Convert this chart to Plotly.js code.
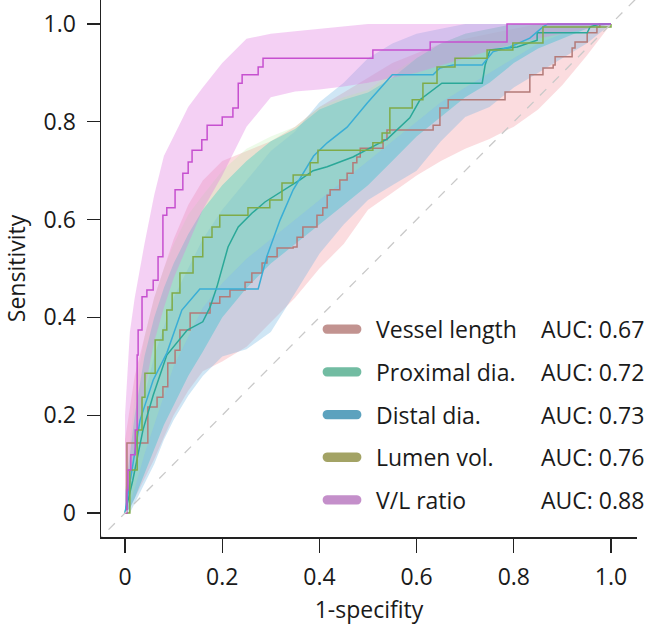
<!DOCTYPE html>
<html><head><meta charset="utf-8">
<script src="https://cdn.plot.ly/plotly-3.0.1.min.js"></script>
<style>html,body{margin:0;padding:0;background:#fff}#chart{width:645px;height:632px}</style>
</head><body><div id="chart"></div>
<script>
// ---- series names / AUC ----
const names = ["Vessel length","Proximal dia.","Distal dia.","Lumen vol.","V/L ratio"];
const aucs = ["0.67","0.72","0.73","0.76","0.88"];
const xTicks = [0,0.2,0.4,0.6,0.8,1.0];
const xTickText = ["0","0.2","0.4","0.6","0.8","1.0"];
const yTicks = [0,0.2,0.4,0.6,0.8,1.0];
const yTickText = ["0","0.2","0.4","0.6","0.8","1.0"];

// ---- ROC curves (1-specificity, sensitivity) ----
const vesselX = [0,0.004,0.014,0.047,0.066,0.078,0.088,0.103,0.113,0.134,0.169,0.175,0.195,0.216,0.247,0.261,0.282,0.292,0.313,0.346,0.354,0.366,0.395,0.407,0.416,0.422,0.442,0.457,0.469,0.477,0.484,0.531,0.539,0.634,0.648,0.665,0.778,0.782,0.827,0.833,0.858,0.860,0.881,0.885,0.920,0.926,0.951,0.967,0.971,0.977,1];
const vesselY = [0,0.143,0.143,0.217,0.237,0.258,0.307,0.333,0.374,0.409,0.409,0.429,0.442,0.456,0.472,0.491,0.511,0.524,0.542,0.544,0.564,0.585,0.609,0.624,0.650,0.661,0.681,0.695,0.716,0.728,0.746,0.763,0.783,0.793,0.828,0.845,0.845,0.861,0.861,0.896,0.896,0.910,0.916,0.933,0.951,0.963,0.982,0.982,0.994,1,1];

const proxX = [0,0.016,0.037,0.058,0.086,0.128,0.160,0.175,0.189,0.212,0.233,0.261,0.288,0.319,0.360,0.387,0.416,0.469,0.504,0.540,0.586,0.607,0.652,0.735,0.741,0.751,0.807,0.848,0.848,0.951,0.957,0.977,1];
const proxY = [0,0.067,0.170,0.241,0.323,0.374,0.391,0.421,0.462,0.544,0.585,0.613,0.636,0.655,0.681,0.700,0.708,0.728,0.746,0.765,0.808,0.845,0.879,0.879,0.916,0.947,0.953,0.967,0.982,0.982,0.994,1,1];

const distX = [0,0.031,0.058,0.086,0.117,0.154,0.274,0.284,0.292,0.319,0.346,0.388,0.416,0.457,0.498,0.550,0.634,0.648,0.675,0.735,0.757,0.792,0.833,0.860,0.870,1];
const distY = [0,0.190,0.272,0.327,0.415,0.458,0.458,0.497,0.525,0.599,0.661,0.730,0.757,0.789,0.838,0.896,0.896,0.910,0.916,0.916,0.943,0.953,0.971,0.994,1,1];

const lumenX = [0,0.010,0.025,0.035,0.041,0.062,0.062,0.078,0.086,0.097,0.113,0.140,0.160,0.179,0.195,0.253,0.298,0.323,0.346,0.381,0.397,0.510,0.529,0.545,0.591,0.613,0.642,0.679,0.745,0.798,0.860,1];
const lumenY = [0,0.088,0.170,0.237,0.286,0.307,0.354,0.374,0.415,0.450,0.491,0.524,0.564,0.585,0.609,0.624,0.640,0.675,0.691,0.716,0.742,0.757,0.777,0.828,0.845,0.879,0.912,0.930,0.947,0.961,0.994,1];

const vlX = [0,0.004,0.006,0.012,0.021,0.025,0.027,0.035,0.045,0.058,0.068,0.078,0.086,0.103,0.119,0.130,0.138,0.158,0.169,0.200,0.222,0.233,0.241,0.274,0.284,0.510,0.510,0.628,0.786,1];
const vlY = [0,0.047,0.088,0.119,0.170,0.323,0.374,0.442,0.456,0.476,0.524,0.609,0.624,0.661,0.695,0.718,0.742,0.763,0.793,0.810,0.828,0.879,0.896,0.912,0.930,0.930,0.947,0.963,1,1];

// ---- confidence bands on a common grid ----
const bandX = [0,0.01,0.02,0.04,0.06,0.08,0.1,0.13,0.16,0.2,0.25,0.3,0.35,0.4,0.45,0.5,0.55,0.6,0.65,0.7,0.75,0.8,0.85,0.9,0.95,1];
const vesselUp = [0.15,0.22,0.28,0.36,0.44,0.5,0.56,0.63,0.68,0.72,0.74,0.76,0.79,0.83,0.86,0.89,0.92,0.94,0.96,0.97,0.98,0.99,1,1,1,1];
const vesselLo = [0,0.01,0.03,0.07,0.11,0.155,0.2,0.25,0.29,0.31,0.34,0.39,0.44,0.5,0.55,0.62,0.655,0.69,0.72,0.745,0.765,0.79,0.825,0.875,0.935,1];
const proxUp = [0.04,0.12,0.2,0.32,0.4,0.46,0.51,0.57,0.62,0.67,0.72,0.76,0.785,0.825,0.845,0.86,0.89,0.93,0.96,0.98,0.99,1,1,1,1,1];
const proxLo = [0,0.01,0.03,0.08,0.13,0.18,0.22,0.28,0.33,0.4,0.46,0.51,0.55,0.59,0.63,0.67,0.72,0.77,0.81,0.85,0.88,0.92,0.95,0.97,0.99,1];
const distUp = [0.03,0.08,0.14,0.24,0.32,0.38,0.44,0.5,0.56,0.62,0.68,0.74,0.78,0.84,0.88,0.93,0.96,0.98,0.99,1,1,1,1,1,1,1];
const distLo = [0,0,0.02,0.06,0.1,0.15,0.19,0.24,0.28,0.32,0.335,0.37,0.45,0.53,0.59,0.64,0.67,0.70,0.76,0.81,0.83,0.87,0.9,0.93,0.96,1];
const lumenUp = [0.05,0.15,0.24,0.36,0.44,0.5,0.55,0.61,0.65,0.7,0.745,0.77,0.79,0.83,0.85,0.865,0.9,0.93,0.96,0.98,0.99,1,1,1,1,1];
const lumenLo = [0,0.02,0.05,0.12,0.18,0.24,0.3,0.36,0.42,0.47,0.52,0.56,0.6,0.64,0.68,0.72,0.76,0.8,0.84,0.87,0.9,0.93,0.96,0.98,0.99,1];
const vlUp = [0.2,0.37,0.44,0.55,0.65,0.73,0.77,0.83,0.87,0.92,0.97,0.98,0.985,0.99,0.995,1,1,1,1,1,1,1,1,1,1,1];
const vlLo = [0,0.05,0.12,0.25,0.35,0.42,0.48,0.55,0.62,0.69,0.79,0.85,0.862,0.866,0.872,0.88,0.89,0.9,0.915,0.93,0.945,0.96,0.97,0.98,0.99,1];

// ---- styling ----
const lineColors = ["#b47a78","#2aa898","#3aaed6","#7fab48","#c650cf"];
const bandColors = ["rgba(240,130,140,0.28)","rgba(30,200,200,0.40)","rgba(110,180,225,0.33)","rgba(180,240,165,0.24)","rgba(225,125,225,0.36)"];
const swatchColors = ["#c29390","#72bca2","#5ca2be","#a3a365","#c48fca"];
const lineShapes = ["hv","linear","linear","hv","hv"];

const curves = [[vesselX,vesselY],[proxX,proxY],[distX,distY],[lumenX,lumenY],[vlX,vlY]];
const bands = [[vesselUp,vesselLo],[proxUp,proxLo],[distUp,distLo],[lumenUp,lumenLo],[vlUp,vlLo]];

const traces = [];
bands.forEach((b,i)=>{
  traces.push({
    x: bandX.concat(bandX.slice().reverse()),
    y: b[0].concat(b[1].slice().reverse()),
    type:'scatter', mode:'lines', fill:'toself', fillcolor:bandColors[i],
    line:{width:0}, hoverinfo:'skip', showlegend:false
  });
});
curves.forEach((c,i)=>{
  traces.push({x:c[0], y:c[1], type:'scatter', mode:'lines',
    line:{color:lineColors[i], width:1.5, shape:lineShapes[i]}, showlegend:false, name:names[i]});
});

const font = {family:"'Open Sans', sans-serif", size:23, color:'#1a1a1a'};
const shapes = [{type:'line', xref:'x', yref:'y', x0:-0.06, y0:-0.06, x1:1.06, y1:1.06,
  line:{color:'#c9c9c9', width:1.3, dash:'dash'}, layer:'above'}];
const annotations = [];
// legend rows (data coords)
const legTop = 0.376, legStep = 0.0873, swX0 = 0.4156, swX1 = 0.4774, hh = 0.0095, rx = 0.012;
names.forEach((n,i)=>{
  const y = legTop - i*legStep;
  const yt = y + hh, yb = y - hh;
  shapes.push({type:'path', xref:'x', yref:'y', fillcolor:swatchColors[i], line:{width:0}, layer:'above',
    path:`M ${swX0},${yt} L ${swX1},${yt} C ${swX1+rx},${yt} ${swX1+rx},${yb} ${swX1},${yb} L ${swX0},${yb} C ${swX0-rx},${yb} ${swX0-rx},${yt} ${swX0},${yt} Z`});
  annotations.push({x:0.512, y:y, xref:'x', yref:'y', text:n, showarrow:false, xanchor:'left', yanchor:'middle', font:font});
  annotations.push({x:0.852, y:y, xref:'x', yref:'y', text:'AUC: '+aucs[i], showarrow:false, xanchor:'left', yanchor:'middle', font:font});
});

const layout = {
  width:645, height:632,
  margin:{l:101, r:8, t:0, b:95},
  paper_bgcolor:'#fff', plot_bgcolor:'#fff',
  font:font,
  showlegend:false,
  xaxis:{range:[-0.0494,1.0535], tickvals:xTicks, ticktext:xTickText, ticks:'outside', ticklen:14, tickwidth:1.3,
    tickcolor:'#222', showline:true, linecolor:'#222', linewidth:1.5, showgrid:false, zeroline:false,
    ticklabelstandoff:5, title:{text:'1-specifity', font:font, standoff:11}, fixedrange:true},
  yaxis:{range:[-0.049,1.049], tickvals:yTicks, ticktext:yTickText, ticks:'outside', ticklen:13, tickwidth:1.3,
    tickcolor:'#222', showline:true, linecolor:'#222', linewidth:1.5, showgrid:false, zeroline:false,
    ticklabelstandoff:6, title:{text:'Sensitivity', font:font, standoff:21}, fixedrange:true},
  shapes:shapes, annotations:annotations
};
Plotly.newPlot('chart', traces, layout, {displayModeBar:false, staticPlot:true});
</script></body></html>
